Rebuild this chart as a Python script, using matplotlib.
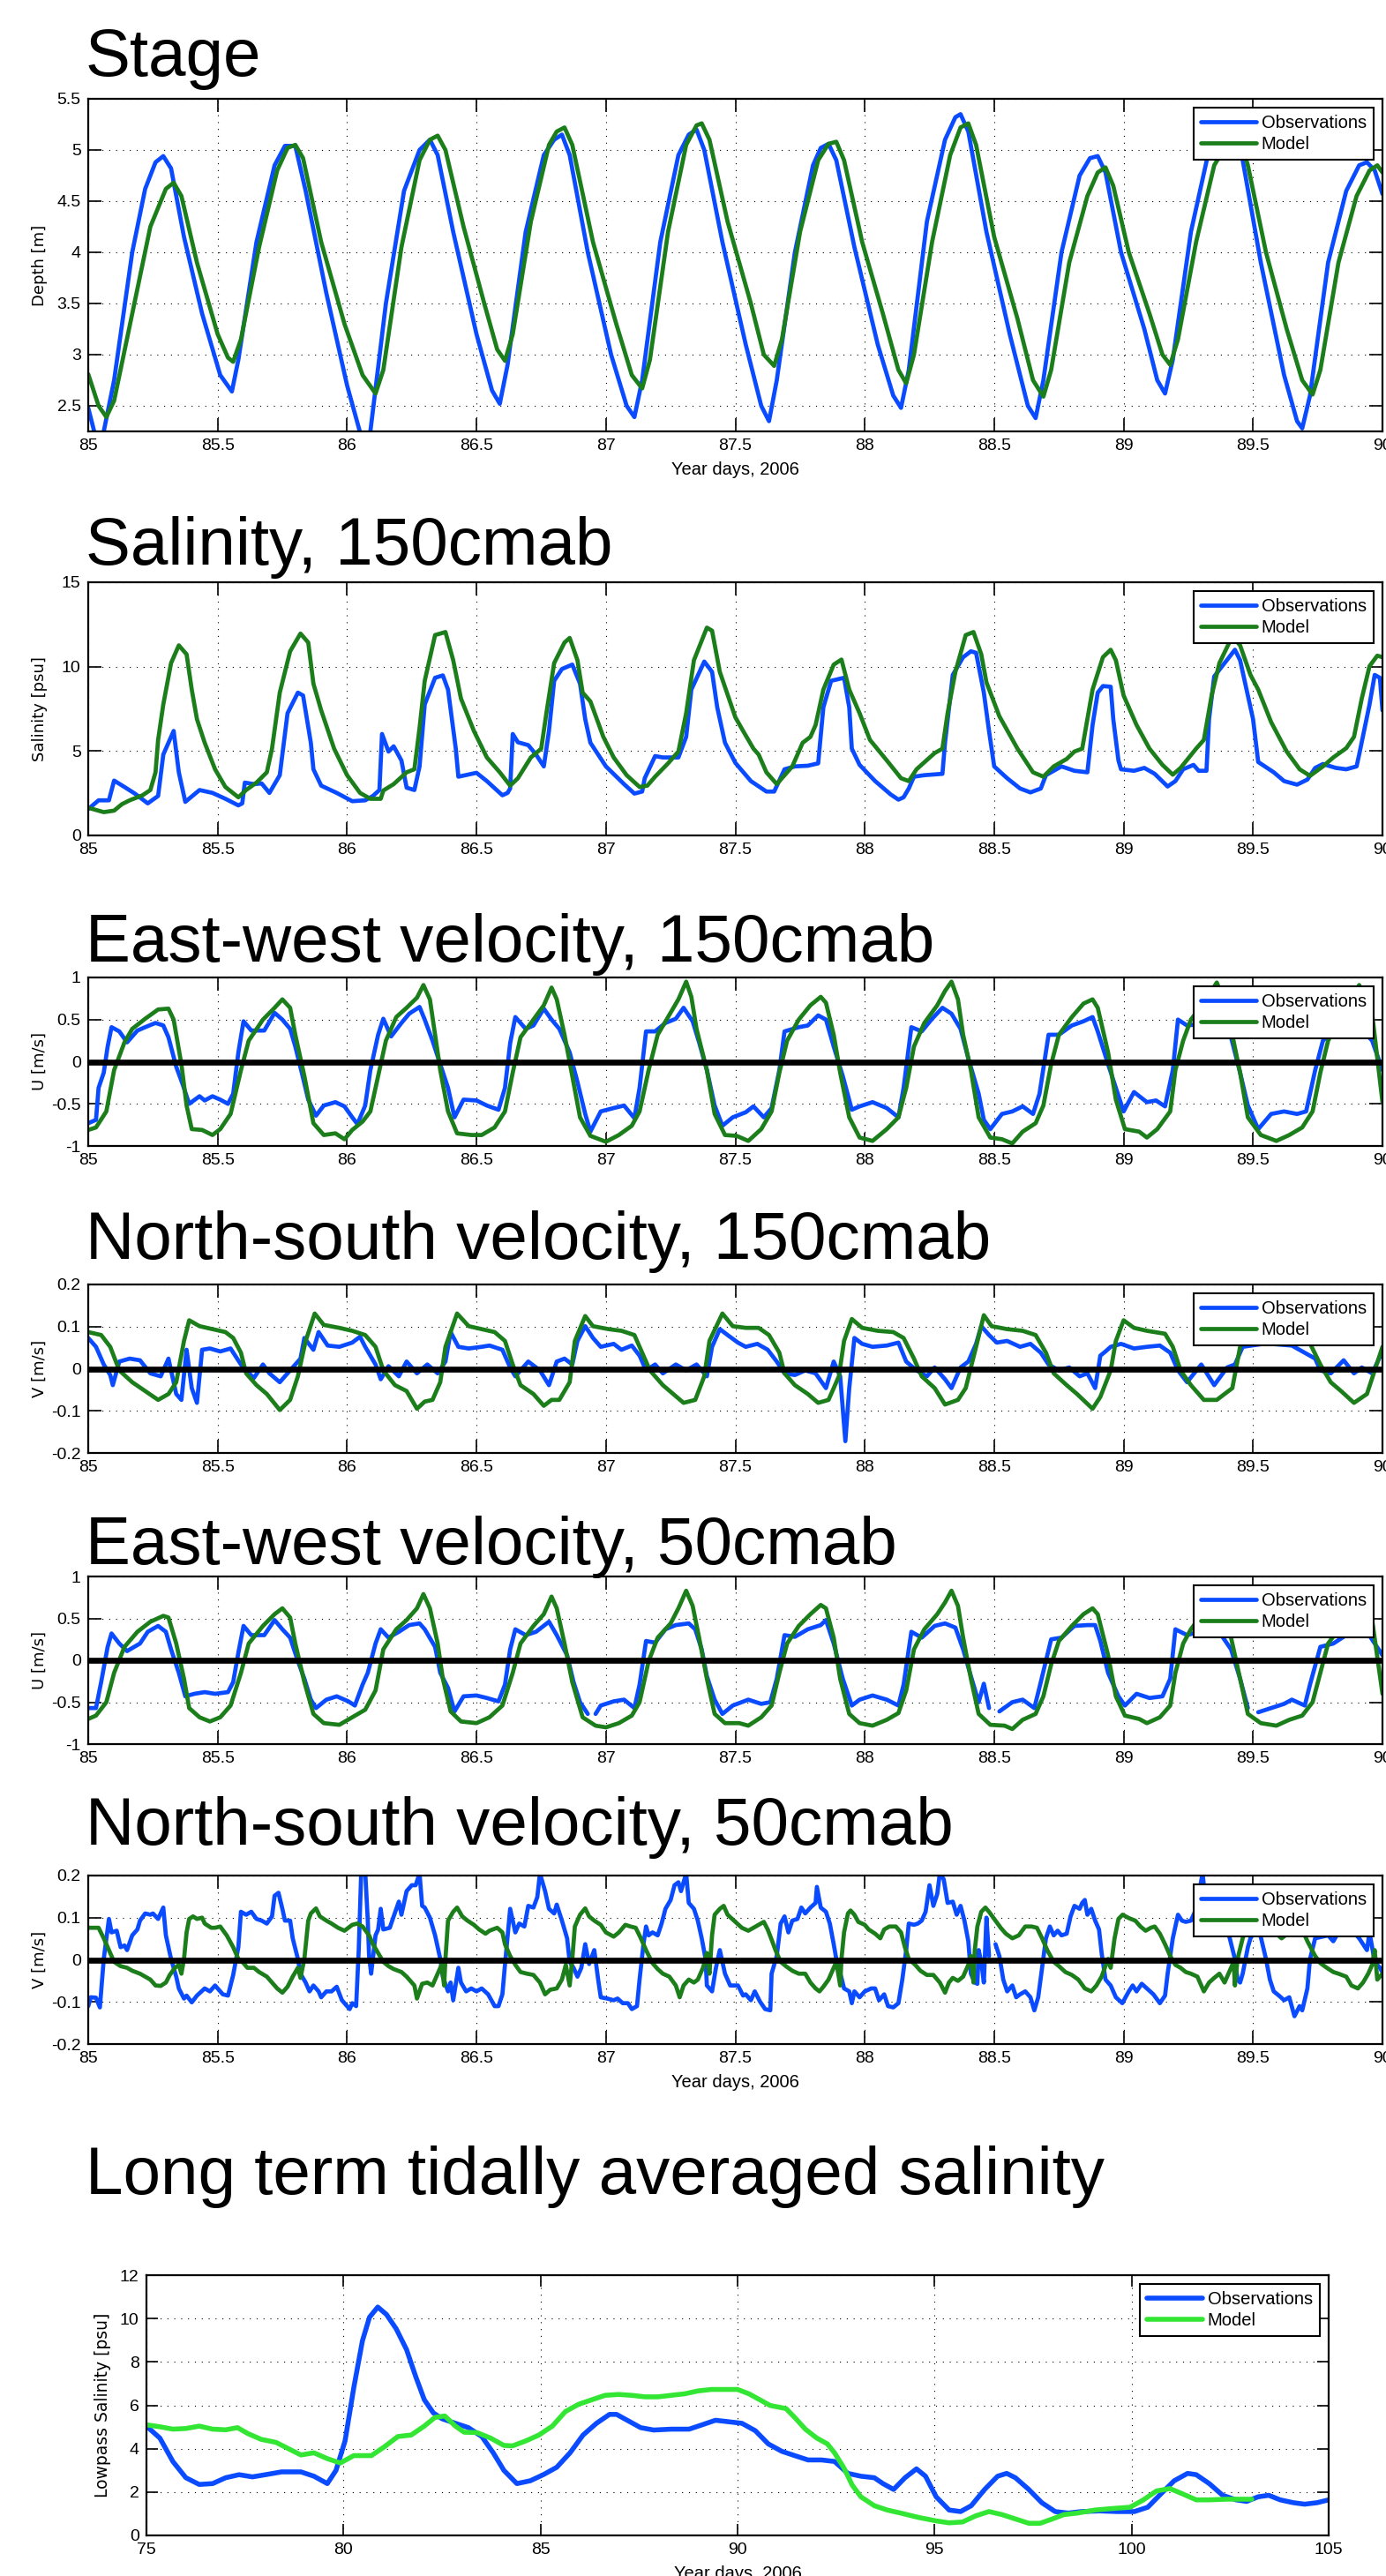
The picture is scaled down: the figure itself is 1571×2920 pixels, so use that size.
import matplotlib
matplotlib.use("Agg")
import matplotlib.pyplot as plt
import numpy as np

nan = np.nan

# ---------------- data (year day, value) ----------------
stage_obs = [
    (85.00, 2.48), (85.03, 2.18), (85.06, 2.25), (85.10, 2.75), (85.17, 4.00), (85.22, 4.62),
    (85.26, 4.88), (85.29, 4.94), (85.32, 4.82), (85.37, 4.15), (85.44, 3.40), (85.51, 2.80),
    (85.555, 2.64), (85.58, 2.95), (85.65, 4.10), (85.72, 4.85), (85.76, 5.04), (85.80, 5.04),
    (85.84, 4.60), (85.92, 3.60), (86.00, 2.70), (86.06, 2.15), (86.09, 2.25), (86.15, 3.50),
    (86.22, 4.60), (86.28, 5.00), (86.32, 5.10), (86.35, 4.95), (86.41, 4.20), (86.50, 3.20),
    (86.56, 2.65), (86.59, 2.52), (86.62, 2.90), (86.69, 4.20), (86.76, 4.95), (86.80, 5.10),
    (86.83, 5.15), (86.86, 4.95), (86.93, 4.00), (87.02, 3.00), (87.08, 2.50), (87.11, 2.39),
    (87.14, 2.75), (87.21, 4.10), (87.28, 4.95), (87.32, 5.15), (87.35, 5.20), (87.38, 5.00),
    (87.45, 4.10), (87.54, 3.10), (87.60, 2.50), (87.63, 2.35), (87.66, 2.75), (87.73, 4.00),
    (87.80, 4.85), (87.83, 5.02), (87.86, 5.06), (87.89, 4.90), (87.96, 4.05), (88.05, 3.10),
    (88.11, 2.60), (88.14, 2.48), (88.17, 2.85), (88.24, 4.30), (88.31, 5.10), (88.35, 5.32),
    (88.37, 5.35), (88.40, 5.18), (88.47, 4.20), (88.56, 3.20), (88.63, 2.50), (88.66, 2.38),
    (88.69, 2.75), (88.76, 4.00), (88.83, 4.75), (88.87, 4.92), (88.90, 4.94), (88.93, 4.78),
    (88.99, 4.00), (89.08, 3.25), (89.13, 2.75), (89.16, 2.62), (89.19, 2.95), (89.26, 4.20),
    (89.33, 5.00), (89.38, 5.15), (89.42, 5.18), (89.46, 4.90), (89.53, 3.90), (89.62, 2.80),
    (89.67, 2.35), (89.69, 2.28), (89.72, 2.60), (89.79, 3.90), (89.86, 4.60), (89.91, 4.85),
    (89.94, 4.88), (89.97, 4.80), (90.00, 4.57),
]
stage_mod = [
    (85.00, 2.81), (85.04, 2.50), (85.07, 2.39), (85.10, 2.55), (85.17, 3.40), (85.24, 4.25),
    (85.30, 4.62), (85.33, 4.68), (85.36, 4.55), (85.42, 3.90), (85.50, 3.20), (85.54, 2.97),
    (85.56, 2.93), (85.59, 3.15), (85.66, 4.05), (85.73, 4.80), (85.77, 5.02), (85.80, 5.05),
    (85.83, 4.92), (85.90, 4.10), (85.99, 3.30), (86.06, 2.80), (86.11, 2.62), (86.14, 2.85),
    (86.21, 4.05), (86.28, 4.90), (86.32, 5.10), (86.35, 5.14), (86.38, 5.00), (86.45, 4.25),
    (86.53, 3.50), (86.58, 3.05), (86.61, 2.94), (86.64, 3.20), (86.71, 4.30), (86.78, 5.05),
    (86.81, 5.18), (86.84, 5.22), (86.87, 5.05), (86.95, 4.10), (87.04, 3.30), (87.10, 2.80),
    (87.14, 2.67), (87.17, 2.95), (87.24, 4.20), (87.31, 5.05), (87.35, 5.24), (87.37, 5.26),
    (87.40, 5.10), (87.47, 4.30), (87.56, 3.50), (87.61, 3.00), (87.65, 2.89), (87.68, 3.15),
    (87.75, 4.20), (87.82, 4.90), (87.86, 5.06), (87.89, 5.08), (87.92, 4.90), (87.99, 4.10),
    (88.07, 3.40), (88.13, 2.85), (88.16, 2.72), (88.19, 3.00), (88.26, 4.10), (88.33, 4.95),
    (88.37, 5.22), (88.40, 5.26), (88.43, 5.05), (88.50, 4.15), (88.59, 3.35), (88.65, 2.75),
    (88.69, 2.59), (88.72, 2.85), (88.79, 3.90), (88.86, 4.55), (88.90, 4.78), (88.93, 4.83),
    (88.96, 4.65), (89.02, 4.00), (89.10, 3.40), (89.15, 3.00), (89.18, 2.90), (89.21, 3.15),
    (89.28, 4.10), (89.35, 4.85), (89.41, 5.10), (89.45, 5.10), (89.48, 4.85), (89.55, 4.00),
    (89.63, 3.25), (89.69, 2.75), (89.73, 2.61), (89.76, 2.85), (89.83, 3.90), (89.90, 4.55),
    (89.95, 4.80), (89.98, 4.85), (90.00, 4.78),
]

sal_obs = [
    (85.00, 1.56), (85.04, 2.08), (85.08, 2.08), (85.10, 3.25), (85.14, 2.87), (85.18, 2.48),
    (85.23, 1.90), (85.27, 2.34), (85.29, 4.79), (85.33, 6.19), (85.35, 3.74), (85.375, 1.99),
    (85.43, 2.69), (85.48, 2.52), (85.53, 2.17), (85.58, 1.78), (85.595, 1.90), (85.605, 3.13),
    (85.64, 3.04), (85.67, 3.08), (85.70, 2.52), (85.74, 3.57), (85.77, 7.24), (85.81, 8.46),
    (85.83, 8.29), (85.86, 5.49), (85.87, 3.92), (85.90, 2.95), (85.96, 2.52), (86.02, 2.03),
    (86.07, 2.08), (86.10, 2.34), (86.125, 2.69), (86.135, 6.01), (86.16, 4.97), (86.18, 5.28),
    (86.21, 4.44), (86.23, 2.83), (86.26, 2.69), (86.28, 4.09), (86.30, 7.76), (86.34, 9.34),
    (86.37, 9.48), (86.39, 8.64), (86.42, 5.14), (86.43, 3.48), (86.50, 3.71), (86.54, 3.22),
    (86.60, 2.38), (86.62, 2.52), (86.63, 2.78), (86.64, 6.01), (86.66, 5.52), (86.70, 5.35),
    (86.73, 4.79), (86.76, 4.09), (86.78, 6.19), (86.80, 9.16), (86.83, 9.86), (86.87, 10.12),
    (86.90, 8.99), (86.92, 6.89), (86.94, 5.49), (87.00, 4.09), (87.07, 3.04), (87.11, 2.48),
    (87.14, 2.60), (87.15, 3.39), (87.19, 4.70), (87.22, 4.62), (87.28, 4.62), (87.31, 5.84),
    (87.33, 8.64), (87.38, 10.30), (87.41, 9.69), (87.43, 7.59), (87.46, 5.49), (87.50, 4.30),
    (87.56, 3.22), (87.62, 2.60), (87.65, 2.60), (87.69, 3.92), (87.73, 4.09), (87.78, 4.13),
    (87.82, 4.27), (87.84, 7.59), (87.87, 9.16), (87.92, 9.34), (87.94, 7.59), (87.95, 5.14),
    (87.98, 4.18), (88.04, 3.22), (88.10, 2.43), (88.13, 2.12), (88.15, 2.26), (88.17, 2.78),
    (88.19, 3.48), (88.23, 3.57), (88.30, 3.65), (88.31, 5.49), (88.34, 9.51), (88.38, 10.56),
    (88.41, 10.91), (88.43, 10.82), (88.46, 8.46), (88.48, 6.19), (88.50, 4.09), (88.55, 3.39),
    (88.60, 2.78), (88.64, 2.55), (88.68, 2.78), (88.70, 3.57), (88.73, 3.83), (88.76, 4.09),
    (88.81, 3.83), (88.86, 3.74), (88.88, 6.54), (88.90, 8.46), (88.92, 8.85), (88.95, 8.81),
    (88.96, 6.89), (88.98, 4.44), (88.99, 3.92), (89.04, 3.83), (89.08, 4.00), (89.12, 3.65),
    (89.17, 2.90), (89.20, 3.22), (89.23, 3.92), (89.27, 4.18), (89.29, 3.83), (89.32, 3.83),
    (89.33, 6.89), (89.35, 9.42), (89.39, 10.21), (89.43, 11.00), (89.45, 10.38), (89.50, 6.89),
    (89.52, 4.35), (89.58, 3.74), (89.62, 3.22), (89.67, 3.01), (89.71, 3.31), (89.74, 4.00),
    (89.77, 4.23), (89.82, 4.00), (89.86, 3.92), (89.90, 4.09), (89.91, 4.79), (89.95, 7.76),
    (89.97, 9.51), (89.99, 9.34), (90.00, 7.41),
]
sal_mod = [
    (85.00, 1.64), (85.06, 1.38), (85.10, 1.47), (85.13, 1.85), (85.16, 2.08), (85.21, 2.38),
    (85.24, 2.69), (85.26, 3.74), (85.27, 5.66), (85.29, 7.76), (85.32, 10.21), (85.35, 11.26),
    (85.38, 10.73), (85.40, 8.64), (85.42, 6.89), (85.45, 5.49), (85.49, 3.92), (85.53, 2.87),
    (85.58, 2.26), (85.61, 2.69), (85.65, 3.13), (85.69, 3.74), (85.71, 5.14), (85.74, 8.46),
    (85.78, 10.91), (85.82, 11.96), (85.85, 11.43), (85.87, 8.99), (85.90, 7.41), (85.95, 5.14),
    (86.00, 3.57), (86.05, 2.52), (86.09, 2.17), (86.13, 2.17), (86.14, 2.66), (86.18, 3.04),
    (86.23, 3.74), (86.26, 3.92), (86.28, 6.36), (86.30, 9.16), (86.34, 11.87), (86.38, 12.05),
    (86.41, 10.38), (86.44, 8.11), (86.49, 6.19), (86.54, 4.62), (86.59, 3.74), (86.63, 2.95),
    (86.66, 3.39), (86.71, 4.62), (86.75, 5.14), (86.77, 7.24), (86.80, 10.21), (86.84, 11.43),
    (86.86, 11.70), (86.89, 10.38), (86.91, 8.46), (86.94, 7.94), (86.99, 5.84), (87.03, 4.62),
    (87.08, 3.57), (87.13, 2.87), (87.16, 2.95), (87.19, 3.48), (87.24, 4.27), (87.28, 4.97),
    (87.31, 7.24), (87.34, 10.38), (87.39, 12.31), (87.41, 12.13), (87.44, 9.69), (87.50, 7.00),
    (87.53, 6.19), (87.57, 5.14), (87.59, 4.79), (87.62, 3.74), (87.66, 3.04), (87.72, 4.09),
    (87.76, 5.49), (87.79, 5.84), (87.81, 6.54), (87.84, 8.64), (87.88, 10.12), (87.91, 10.42),
    (87.94, 8.64), (87.98, 7.24), (88.02, 5.66), (88.09, 4.35), (88.14, 3.39), (88.17, 3.22),
    (88.20, 3.92), (88.27, 4.88), (88.30, 5.14), (88.32, 7.24), (88.35, 9.69), (88.39, 11.87),
    (88.42, 12.05), (88.45, 10.73), (88.47, 9.07), (88.52, 7.06), (88.59, 5.14), (88.65, 3.74),
    (88.69, 3.48), (88.73, 4.09), (88.78, 4.53), (88.81, 4.97), (88.84, 5.14), (88.88, 8.64),
    (88.92, 10.56), (88.95, 11.00), (88.97, 10.38), (89.00, 8.29), (89.05, 6.54), (89.10, 5.14),
    (89.15, 4.18), (89.19, 3.60), (89.22, 4.00), (89.28, 5.14), (89.31, 5.66), (89.34, 8.29),
    (89.37, 10.21), (89.42, 11.80), (89.45, 11.26), (89.49, 9.51), (89.52, 8.64), (89.57, 6.71),
    (89.63, 4.97), (89.68, 3.92), (89.72, 3.53), (89.77, 4.09), (89.81, 4.62), (89.86, 5.17),
    (89.89, 5.84), (89.92, 8.11), (89.95, 10.03), (89.98, 10.65), (90.00, 10.56),
]

u150_obs = [
    (85.00, -0.73), (85.03, -0.69), (85.04, -0.31), (85.06, -0.13), (85.075, 0.18), (85.09, 0.41),
    (85.12, 0.36), (85.15, 0.23), (85.19, 0.37), (85.22, 0.41), (85.26, 0.46), (85.29, 0.43),
    (85.31, 0.29), (85.34, -0.06), (85.365, -0.27), (85.39, -0.50), (85.43, -0.41), (85.45, -0.46),
    (85.48, -0.41), (85.51, -0.45), (85.54, -0.50), (85.56, -0.38), (85.58, 0.11), (85.60, 0.48),
    (85.63, 0.37), (85.68, 0.37), (85.72, 0.58), (85.75, 0.50), (85.78, 0.39), (85.80, 0.18),
    (85.825, -0.13), (85.85, -0.45), (85.88, -0.64), (85.91, -0.52), (85.955, -0.48), (85.99, -0.53),
    (86.02, -0.66), (86.04, -0.74), (86.07, -0.52), (86.09, -0.10), (86.12, 0.32), (86.14, 0.51),
    (86.17, 0.30), (86.21, 0.46), (86.24, 0.57), (86.28, 0.65), (86.30, 0.50), (86.33, 0.25),
    (86.36, -0.03), (86.39, -0.31), (86.415, -0.66), (86.45, -0.45), (86.50, -0.46), (86.54, -0.52),
    (86.585, -0.57), (86.61, -0.31), (86.63, 0.22), (86.65, 0.53), (86.69, 0.39), (86.72, 0.43),
    (86.76, 0.63), (86.79, 0.50), (86.82, 0.39), (86.86, 0.11), (86.89, -0.24), (86.92, -0.62),
    (86.94, -0.83), (86.98, -0.59), (87.03, -0.55), (87.07, -0.52), (87.11, -0.67), (87.13, -0.31),
    (87.155, 0.36), (87.19, 0.36), (87.23, 0.46), (87.27, 0.51), (87.30, 0.64), (87.335, 0.48),
    (87.36, 0.23), (87.39, -0.10), (87.42, -0.52), (87.45, -0.76), (87.49, -0.66), (87.54, -0.60),
    (87.57, -0.53), (87.61, -0.66), (87.64, -0.55), (87.67, -0.10), (87.69, 0.36), (87.745, 0.41),
    (87.78, 0.43), (87.82, 0.55), (87.85, 0.50), (87.88, 0.18), (87.915, -0.17), (87.95, -0.57),
    (87.98, -0.53), (88.03, -0.48), (88.085, -0.55), (88.13, -0.66), (88.15, -0.31), (88.18, 0.41),
    (88.22, 0.36), (88.26, 0.51), (88.30, 0.64), (88.335, 0.57), (88.37, 0.39), (88.40, 0.04),
    (88.44, -0.38), (88.46, -0.69), (88.485, -0.80), (88.53, -0.62), (88.57, -0.59), (88.61, -0.53),
    (88.65, -0.62), (88.675, -0.38), (88.71, 0.32), (88.75, 0.32), (88.80, 0.43), (88.845, 0.48),
    (88.88, 0.53), (88.90, 0.36), (88.94, -0.03), (88.97, -0.31), (89.00, -0.59), (89.04, -0.36),
    (89.09, -0.48), (89.125, -0.46), (89.16, -0.53), (89.19, -0.10), (89.21, 0.50), (89.245, 0.43),
    (89.30, 0.45), (89.36, 0.50), (89.415, 0.29), (89.45, -0.13), (89.48, -0.52), (89.52, -0.80),
    (89.57, -0.62), (89.62, -0.59), (89.67, -0.62), (89.705, -0.59), (89.74, -0.10), (89.77, 0.25),
    (89.82, 0.40), (89.90, 0.45), (89.96, 0.25), (90.00, -0.10),
]
u150_mod = [
    (85.00, -0.81), (85.03, -0.78), (85.07, -0.59), (85.10, -0.10), (85.14, 0.23), (85.17, 0.39),
    (85.22, 0.51), (85.27, 0.62), (85.31, 0.63), (85.33, 0.50), (85.36, -0.03), (85.38, -0.52),
    (85.40, -0.80), (85.44, -0.81), (85.48, -0.87), (85.51, -0.80), (85.55, -0.62), (85.59, -0.10),
    (85.62, 0.25), (85.675, 0.50), (85.72, 0.64), (85.75, 0.74), (85.78, 0.64), (85.80, 0.32),
    (85.835, -0.17), (85.87, -0.73), (85.91, -0.87), (85.955, -0.85), (85.99, -0.92), (86.02, -0.81),
    (86.06, -0.71), (86.09, -0.59), (86.12, -0.17), (86.15, 0.25), (86.19, 0.53), (86.23, 0.64),
    (86.27, 0.76), (86.295, 0.91), (86.32, 0.74), (86.34, 0.32), (86.36, -0.10), (86.39, -0.59),
    (86.425, -0.85), (86.48, -0.87), (86.52, -0.87), (86.57, -0.78), (86.61, -0.59), (86.64, -0.13),
    (86.67, 0.29), (86.72, 0.50), (86.76, 0.67), (86.79, 0.88), (86.81, 0.74), (86.84, 0.32),
    (86.87, -0.17), (86.90, -0.66), (86.94, -0.88), (87.00, -0.95), (87.05, -0.87), (87.10, -0.76),
    (87.13, -0.59), (87.165, -0.10), (87.20, 0.32), (87.24, 0.53), (87.28, 0.74), (87.31, 0.95),
    (87.33, 0.77), (87.35, 0.39), (87.39, -0.10), (87.42, -0.62), (87.46, -0.87), (87.505, -0.88),
    (87.55, -0.94), (87.60, -0.80), (87.64, -0.59), (87.67, -0.13), (87.70, 0.25), (87.745, 0.50),
    (87.79, 0.67), (87.83, 0.77), (87.85, 0.70), (87.88, 0.32), (87.905, -0.13), (87.94, -0.66),
    (87.98, -0.90), (88.03, -0.94), (88.085, -0.80), (88.13, -0.66), (88.16, -0.31), (88.19, 0.18),
    (88.23, 0.46), (88.28, 0.67), (88.31, 0.84), (88.335, 0.95), (88.36, 0.74), (88.38, 0.32),
    (88.41, -0.10), (88.44, -0.66), (88.485, -0.90), (88.53, -0.92), (88.57, -0.97), (88.61, -0.83),
    (88.66, -0.73), (88.69, -0.52), (88.72, -0.03), (88.75, 0.32), (88.80, 0.53), (88.845, 0.69),
    (88.88, 0.74), (88.90, 0.64), (88.94, 0.11), (88.97, -0.45), (89.005, -0.80), (89.06, -0.83),
    (89.09, -0.90), (89.13, -0.80), (89.18, -0.59), (89.20, -0.10), (89.23, 0.25), (89.26, 0.50),
    (89.31, 0.70), (89.36, 0.94), (89.39, 0.70), (89.415, 0.39), (89.45, -0.13), (89.48, -0.66),
    (89.53, -0.87), (89.59, -0.94), (89.64, -0.87), (89.69, -0.78), (89.73, -0.59), (89.76, -0.13),
    (89.79, 0.25), (89.85, 0.60), (89.91, 0.91), (89.96, 0.57), (90.00, -0.48),
]

v150_obs = [
    (85.00, 0.073), (85.03, 0.052), (85.06, 0.010), (85.085, -0.015), (85.095, -0.039), (85.12, 0.017),
    (85.16, 0.024), (85.20, 0.020), (85.24, -0.011), (85.28, -0.018), (85.31, 0.024), (85.34, -0.060),
    (85.36, -0.074), (85.38, 0.045), (85.40, -0.046), (85.42, -0.081), (85.44, 0.045), (85.47, 0.048),
    (85.51, 0.041), (85.55, 0.048), (85.59, 0.010), (85.61, -0.004), (85.64, -0.022), (85.675, 0.010),
    (85.70, -0.011), (85.74, -0.032), (85.78, -0.004), (85.82, 0.024), (85.835, 0.073), (85.87, 0.045),
    (85.89, 0.087), (85.925, 0.055), (85.97, 0.052), (86.02, 0.062), (86.05, 0.076), (86.07, 0.052),
    (86.11, 0.010), (86.13, -0.025), (86.16, 0.006), (86.20, -0.018), (86.23, 0.017), (86.27, -0.011),
    (86.31, 0.010), (86.35, -0.011), (86.38, 0.017), (86.40, 0.087), (86.43, 0.052), (86.47, 0.048),
    (86.52, 0.052), (86.55, 0.055), (86.60, 0.045), (86.63, 0.003), (86.65, -0.018), (86.68, 0.003),
    (86.70, 0.017), (86.745, -0.004), (86.78, -0.039), (86.81, 0.017), (86.84, 0.024), (86.87, 0.010),
    (86.89, 0.066), (86.92, 0.101), (86.95, 0.073), (86.98, 0.052), (87.03, 0.059), (87.06, 0.045),
    (87.10, 0.055), (87.13, 0.031), (87.155, -0.004), (87.19, 0.010), (87.22, -0.011), (87.27, 0.010),
    (87.31, -0.004), (87.35, 0.010), (87.39, -0.018), (87.41, 0.052), (87.44, 0.094), (87.47, 0.080),
    (87.51, 0.062), (87.54, 0.052), (87.585, 0.059), (87.625, 0.045), (87.66, 0.017), (87.69, -0.011),
    (87.73, -0.015), (87.77, -0.004), (87.81, -0.011), (87.85, -0.046), (87.88, 0.017), (87.905, -0.018),
    (87.925, -0.172), (87.94, -0.046), (87.96, 0.073), (87.99, 0.059), (88.03, 0.052), (88.085, 0.055),
    (88.13, 0.062), (88.16, 0.017), (88.20, -0.004), (88.24, -0.018), (88.27, 0.003), (88.31, -0.025),
    (88.335, -0.046), (88.37, 0.003), (88.40, 0.017), (88.43, 0.059), (88.45, 0.101), (88.48, 0.080),
    (88.51, 0.062), (88.55, 0.066), (88.60, 0.052), (88.64, 0.059), (88.68, 0.038), (88.71, 0.010),
    (88.75, -0.004), (88.79, 0.003), (88.83, -0.018), (88.86, -0.011), (88.89, -0.046), (88.91, 0.031),
    (88.93, 0.041), (88.95, 0.052), (88.99, 0.059), (89.04, 0.048), (89.09, 0.052), (89.14, 0.055),
    (89.18, 0.038), (89.21, -0.004), (89.245, -0.032), (89.30, 0.010), (89.35, -0.039), (89.40, 0.003),
    (89.43, 0.010), (89.46, 0.052), (89.55, 0.060), (89.65, 0.055), (89.74, 0.024), (89.76, -0.004),
    (89.80, -0.011), (89.85, 0.020), (89.89, -0.011), (89.92, 0.003), (89.96, -0.011), (90.00, 0.041),
]
v150_mod = [
    (85.00, 0.087), (85.05, 0.080), (85.085, 0.052), (85.12, -0.004), (85.17, -0.032), (85.22, -0.053),
    (85.27, -0.074), (85.31, -0.060), (85.34, -0.032), (85.37, 0.066), (85.39, 0.115), (85.43, 0.101),
    (85.48, 0.094), (85.53, 0.087), (85.56, 0.073), (85.59, 0.038), (85.61, -0.011), (85.65, -0.039),
    (85.69, -0.060), (85.74, -0.098), (85.78, -0.074), (85.81, -0.018), (85.84, 0.066), (85.875, 0.131),
    (85.91, 0.104), (85.97, 0.097), (86.02, 0.090), (86.07, 0.080), (86.11, 0.052), (86.14, -0.004),
    (86.185, -0.039), (86.23, -0.053), (86.27, -0.095), (86.30, -0.078), (86.33, -0.074), (86.36, -0.032),
    (86.38, 0.052), (86.425, 0.131), (86.47, 0.101), (86.52, 0.094), (86.57, 0.087), (86.61, 0.066),
    (86.64, 0.010), (86.67, -0.039), (86.72, -0.060), (86.76, -0.088), (86.79, -0.074), (86.82, -0.074),
    (86.86, -0.032), (86.88, 0.066), (86.92, 0.125), (86.95, 0.101), (87.01, 0.094), (87.06, 0.090),
    (87.11, 0.080), (87.14, 0.038), (87.17, -0.004), (87.22, -0.039), (87.26, -0.060), (87.30, -0.081),
    (87.345, -0.074), (87.38, -0.018), (87.40, 0.066), (87.45, 0.131), (87.49, 0.101), (87.54, 0.097),
    (87.59, 0.097), (87.63, 0.080), (87.67, 0.038), (87.69, -0.011), (87.73, -0.039), (87.78, -0.060),
    (87.82, -0.081), (87.86, -0.074), (87.90, -0.018), (87.92, 0.066), (87.95, 0.118), (87.99, 0.097),
    (88.05, 0.090), (88.11, 0.087), (88.15, 0.073), (88.19, 0.024), (88.22, -0.018), (88.27, -0.046),
    (88.31, -0.085), (88.36, -0.074), (88.39, -0.046), (88.43, 0.052), (88.46, 0.127), (88.49, 0.101),
    (88.55, 0.094), (88.61, 0.090), (88.66, 0.080), (88.70, 0.038), (88.73, -0.011), (88.78, -0.039),
    (88.82, -0.060), (88.88, -0.095), (88.91, -0.067), (88.95, -0.004), (88.97, 0.066), (89.00, 0.115),
    (89.04, 0.097), (89.09, 0.090), (89.16, 0.083), (89.19, 0.052), (89.22, -0.004), (89.26, -0.039),
    (89.31, -0.074), (89.36, -0.074), (89.42, -0.046), (89.45, 0.052), (89.48, 0.115), (89.55, 0.100),
    (89.65, 0.090), (89.72, 0.060), (89.76, 0.010), (89.80, -0.032), (89.84, -0.053), (89.89, -0.081),
    (89.94, -0.060), (89.97, -0.004), (90.00, 0.052),
]

u50_obs = [
    (85.00, -0.57), (85.03, -0.57), (85.05, -0.26), (85.075, 0.16), (85.09, 0.32), (85.12, 0.20),
    (85.15, 0.11), (85.20, 0.20), (85.23, 0.34), (85.27, 0.41), (85.30, 0.34), (85.32, 0.13),
    (85.35, -0.15), (85.375, -0.43), (85.41, -0.40), (85.45, -0.38), (85.49, -0.40), (85.54, -0.38),
    (85.56, -0.26), (85.58, 0.09), (85.60, 0.41), (85.63, 0.30), (85.68, 0.30), (85.72, 0.48),
    (85.75, 0.37), (85.78, 0.27), (85.81, -0.01), (85.835, -0.22), (85.86, -0.47), (85.88, -0.57),
    (85.92, -0.47), (85.96, -0.43), (86.005, -0.49), (86.03, -0.54), (86.06, -0.29), (86.08, -0.15),
    (86.11, 0.20), (86.13, 0.37), (86.16, 0.27), (86.20, 0.34), (86.24, 0.42), (86.28, 0.44),
    (86.30, 0.37), (86.34, 0.16), (86.36, -0.15), (86.39, -0.33), (86.415, -0.61), (86.45, -0.43),
    (86.50, -0.42), (86.54, -0.45), (86.585, -0.49), (86.61, -0.29), (86.63, 0.13), (86.65, 0.37),
    (86.69, 0.30), (86.73, 0.34), (86.78, 0.46), (86.81, 0.30), (86.85, 0.06), (86.875, -0.26),
    (86.90, -0.50), (86.93, -0.64), (86.945, nan), (86.96, -0.64), (86.98, -0.54), (87.03, -0.49),
    (87.07, -0.47), (87.11, -0.57), (87.13, -0.29), (87.155, 0.23), (87.19, 0.21), (87.23, 0.37),
    (87.27, 0.42), (87.32, 0.44), (87.345, 0.37), (87.37, 0.13), (87.39, -0.19), (87.42, -0.47),
    (87.45, -0.64), (87.49, -0.54), (87.55, -0.47), (87.60, -0.52), (87.635, -0.50), (87.66, -0.22),
    (87.69, 0.30), (87.73, 0.28), (87.78, 0.37), (87.83, 0.42), (87.85, 0.48), (87.88, 0.20),
    (87.915, -0.22), (87.95, -0.54), (87.98, -0.47), (88.03, -0.42), (88.085, -0.47), (88.13, -0.54),
    (88.15, -0.29), (88.18, 0.34), (88.22, 0.27), (88.27, 0.41), (88.31, 0.44), (88.35, 0.39),
    (88.38, 0.13), (88.41, -0.19), (88.44, -0.50), (88.46, -0.28), (88.48, -0.57), (88.50, nan),
    (88.52, -0.61), (88.57, -0.50), (88.61, -0.47), (88.655, -0.57), (88.68, -0.26), (88.72, 0.25),
    (88.76, 0.27), (88.81, 0.41), (88.86, 0.42), (88.89, 0.42), (88.91, 0.23), (88.94, -0.15),
    (88.98, -0.43), (89.005, -0.54), (89.05, -0.40), (89.10, -0.45), (89.15, -0.43), (89.18, -0.22),
    (89.20, 0.37), (89.245, 0.30), (89.30, 0.35), (89.36, 0.38), (89.415, 0.13), (89.45, -0.22),
    (89.48, -0.57), (89.50, nan), (89.52, -0.62), (89.57, -0.57), (89.62, -0.52), (89.65, -0.47),
    (89.70, -0.54), (89.72, -0.29), (89.76, 0.16), (89.81, 0.20), (89.86, 0.30), (89.94, 0.34),
    (90.00, 0.06),
]
u50_mod = [
    (85.00, -0.70), (85.03, -0.66), (85.07, -0.50), (85.10, -0.15), (85.14, 0.16), (85.19, 0.34),
    (85.24, 0.46), (85.29, 0.53), (85.31, 0.51), (85.34, 0.20), (85.37, -0.22), (85.39, -0.57),
    (85.43, -0.68), (85.47, -0.73), (85.51, -0.68), (85.55, -0.54), (85.59, -0.15), (85.62, 0.20),
    (85.675, 0.41), (85.72, 0.55), (85.75, 0.62), (85.78, 0.51), (85.80, 0.20), (85.835, -0.26),
    (85.87, -0.64), (85.91, -0.75), (85.97, -0.77), (86.02, -0.68), (86.07, -0.59), (86.11, -0.36),
    (86.14, 0.13), (86.19, 0.37), (86.23, 0.48), (86.27, 0.62), (86.295, 0.79), (86.32, 0.62),
    (86.35, 0.20), (86.37, -0.22), (86.40, -0.61), (86.44, -0.73), (86.50, -0.75), (86.55, -0.68),
    (86.60, -0.54), (86.64, -0.15), (86.67, 0.20), (86.72, 0.41), (86.76, 0.55), (86.79, 0.76),
    (86.81, 0.62), (86.84, 0.20), (86.87, -0.26), (86.91, -0.68), (86.96, -0.78), (87.00, -0.80),
    (87.05, -0.75), (87.10, -0.66), (87.13, -0.50), (87.165, -0.01), (87.20, 0.27), (87.25, 0.44),
    (87.28, 0.62), (87.31, 0.83), (87.335, 0.65), (87.36, 0.27), (87.39, -0.22), (87.42, -0.64),
    (87.46, -0.75), (87.515, -0.75), (87.55, -0.78), (87.60, -0.68), (87.64, -0.54), (87.67, -0.15),
    (87.70, 0.20), (87.745, 0.41), (87.79, 0.55), (87.83, 0.66), (87.85, 0.62), (87.88, 0.27),
    (87.905, -0.22), (87.94, -0.64), (87.98, -0.75), (88.03, -0.78), (88.085, -0.71), (88.13, -0.63),
    (88.16, -0.36), (88.19, 0.13), (88.23, 0.37), (88.28, 0.55), (88.31, 0.69), (88.335, 0.83),
    (88.36, 0.65), (88.38, 0.27), (88.41, -0.22), (88.44, -0.64), (88.485, -0.77), (88.54, -0.78),
    (88.57, -0.82), (88.61, -0.71), (88.66, -0.64), (88.69, -0.43), (88.72, -0.05), (88.75, 0.23),
    (88.80, 0.41), (88.845, 0.55), (88.88, 0.62), (88.90, 0.55), (88.94, 0.06), (88.97, -0.43),
    (89.005, -0.66), (89.06, -0.70), (89.09, -0.75), (89.14, -0.68), (89.18, -0.54), (89.20, -0.15),
    (89.23, 0.20), (89.26, 0.37), (89.31, 0.58), (89.36, 0.79), (89.39, 0.60), (89.415, 0.27),
    (89.45, -0.22), (89.48, -0.64), (89.53, -0.75), (89.59, -0.78), (89.64, -0.71), (89.69, -0.66),
    (89.73, -0.50), (89.76, -0.15), (89.79, 0.20), (89.85, 0.45), (89.91, 0.65), (89.96, 0.48),
    (90.00, -0.40),
]

v50_obs = [
    (85.00, -0.110), (85.01, -0.089), (85.03, -0.090), (85.045, -0.113), (85.06, 0.002), (85.08, 0.097),
    (85.09, 0.065), (85.11, 0.069), (85.125, 0.030), (85.14, 0.034), (85.15, 0.023), (85.17, 0.058),
    (85.19, 0.072), (85.20, 0.093), (85.22, 0.110), (85.24, 0.107), (85.25, 0.110), (85.27, 0.097),
    (85.29, 0.124), (85.30, 0.058), (85.32, 0.002), (85.34, -0.040), (85.35, -0.068), (85.37, -0.092),
    (85.38, -0.085), (85.40, -0.101), (85.42, -0.085), (85.45, -0.068), (85.47, -0.075), (85.49, -0.061),
    (85.52, -0.082), (85.54, -0.085), (85.56, -0.036), (85.58, 0.030), (85.59, 0.114), (85.61, 0.107),
    (85.63, 0.114), (85.65, 0.097), (85.67, 0.093), (85.69, 0.086), (85.71, 0.103), (85.72, 0.152),
    (85.735, 0.159), (85.75, 0.121), (85.76, 0.093), (85.78, 0.093), (85.79, 0.051), (85.81, 0.002),
    (85.82, -0.033), (85.84, -0.054), (85.855, -0.075), (85.87, -0.061), (85.89, -0.075), (85.90, -0.089),
    (85.92, -0.075), (85.94, -0.075), (85.96, -0.064), (85.98, -0.096), (86.01, -0.117), (86.02, -0.103),
    (86.035, -0.110), (86.045, 0.023), (86.055, 0.215), (86.07, 0.210), (86.08, 0.093), (86.085, 0.009),
    (86.093, -0.033), (86.11, 0.058), (86.12, 0.072), (86.13, 0.121), (86.14, 0.072), (86.165, 0.076),
    (86.18, 0.103), (86.20, 0.138), (86.21, 0.107), (86.23, 0.163), (86.25, 0.177), (86.265, 0.177),
    (86.28, 0.205), (86.29, 0.128), (86.30, 0.124), (86.32, 0.100), (86.34, 0.058), (86.36, 0.002),
    (86.37, -0.040), (86.39, -0.075), (86.40, -0.054), (86.41, -0.096), (86.43, -0.019), (86.44, -0.054),
    (86.46, -0.075), (86.48, -0.068), (86.50, -0.075), (86.52, -0.068), (86.545, -0.082), (86.57, -0.110),
    (86.585, -0.110), (86.60, -0.082), (86.61, -0.012), (86.63, 0.121), (86.65, 0.065), (86.665, 0.086),
    (86.685, 0.079), (86.70, 0.128), (86.72, 0.124), (86.735, 0.149), (86.745, 0.205), (86.765, 0.163),
    (86.78, 0.121), (86.80, 0.110), (86.81, 0.131), (86.83, 0.093), (86.85, 0.051), (86.86, -0.005),
    (86.875, -0.019), (86.89, -0.040), (86.905, -0.019), (86.92, 0.037), (86.935, -0.010), (86.955, 0.023),
    (86.97, -0.047), (86.98, -0.089), (87.005, -0.092), (87.03, -0.096), (87.045, -0.092), (87.065, -0.103),
    (87.085, -0.103), (87.10, -0.117), (87.12, -0.110), (87.13, -0.047), (87.145, 0.037), (87.155, 0.079),
    (87.165, 0.058), (87.18, 0.065), (87.20, 0.058), (87.215, 0.086), (87.23, 0.121), (87.25, 0.142),
    (87.265, 0.177), (87.28, 0.184), (87.29, 0.163), (87.31, 0.205), (87.32, 0.135), (87.34, 0.121),
    (87.355, 0.093), (87.37, 0.051), (87.385, 0.002), (87.39, -0.061), (87.41, -0.075), (87.425, -0.019),
    (87.44, 0.023), (87.46, -0.033), (87.48, -0.061), (87.51, -0.061), (87.53, -0.085), (87.54, -0.082),
    (87.56, -0.096), (87.575, -0.075), (87.595, -0.099), (87.615, -0.117), (87.635, -0.120), (87.64, -0.033),
    (87.66, 0.009), (87.675, 0.086), (87.69, 0.103), (87.705, 0.065), (87.72, 0.093), (87.74, 0.097),
    (87.755, 0.124), (87.77, 0.110), (87.79, 0.124), (87.81, 0.135), (87.815, 0.173), (87.83, 0.124),
    (87.85, 0.114), (87.865, 0.086), (87.88, 0.037), (87.89, 0.002), (87.91, -0.043), (87.92, -0.068),
    (87.94, -0.075), (87.95, -0.103), (87.96, -0.075), (87.98, -0.089), (88.00, -0.075), (88.025, -0.068),
    (88.04, -0.068), (88.055, -0.096), (88.075, -0.082), (88.09, -0.110), (88.11, -0.113), (88.13, -0.103),
    (88.145, -0.047), (88.16, 0.023), (88.17, 0.086), (88.19, 0.083), (88.205, 0.086), (88.22, 0.093),
    (88.235, 0.114), (88.25, 0.177), (88.265, 0.128), (88.28, 0.156), (88.29, 0.205), (88.305, 0.191),
    (88.32, 0.135), (88.34, 0.138), (88.355, 0.107), (88.37, 0.128), (88.385, 0.093), (88.40, 0.044),
    (88.41, -0.033), (88.425, -0.054), (88.435, -0.057), (88.44, 0.023), (88.45, -0.005), (88.46, -0.054),
    (88.47, 0.100), (88.48, 0.009), (88.49, nan), (88.505, 0.037), (88.52, 0.009), (88.535, -0.047),
    (88.55, -0.075), (88.57, -0.061), (88.585, -0.089), (88.60, -0.082), (88.62, -0.075), (88.64, -0.089),
    (88.655, -0.120), (88.67, -0.089), (88.685, -0.019), (88.70, 0.051), (88.715, 0.079), (88.73, 0.058),
    (88.745, 0.069), (88.76, 0.058), (88.78, 0.062), (88.795, 0.103), (88.81, 0.128), (88.83, 0.121),
    (88.84, 0.135), (88.85, 0.142), (88.86, 0.107), (88.875, 0.121), (88.89, 0.093), (88.905, 0.072),
    (88.915, 0.016), (88.93, -0.047), (88.95, -0.061), (88.97, -0.089), (88.995, -0.103), (89.02, -0.075),
    (89.035, -0.061), (89.05, -0.075), (89.07, -0.057), (89.09, -0.068), (89.115, -0.082), (89.14, -0.103),
    (89.16, -0.085), (89.17, -0.033), (89.19, 0.051), (89.21, 0.107), (89.225, 0.093), (89.24, 0.090),
    (89.26, 0.093), (89.28, 0.120), (89.305, 0.205), (89.31, 0.177), (89.34, 0.150), (89.375, 0.128),
    (89.41, 0.051), (89.43, 0.002), (89.44, -0.047), (89.45, -0.054), (89.46, -0.033), (89.48, 0.030),
    (89.49, 0.051), (89.52, 0.080), (89.55, 0.002), (89.565, -0.047), (89.58, -0.075), (89.60, -0.085),
    (89.62, -0.096), (89.64, -0.089), (89.66, -0.134), (89.68, -0.110), (89.69, -0.120), (89.71, -0.068),
    (89.72, 0.002), (89.74, 0.051), (89.79, 0.058), (89.81, 0.044), (89.83, 0.065), (89.88, 0.072),
    (89.91, 0.051), (89.94, 0.023), (89.95, 0.065), (89.97, -0.005), (89.99, -0.019), (90.00, -0.030),
]
v50_mod = [
    (85.00, 0.076), (85.04, 0.076), (85.06, 0.051), (85.08, 0.023), (85.10, -0.005), (85.125, -0.015),
    (85.15, -0.019), (85.17, -0.026), (85.20, -0.033), (85.22, -0.040), (85.24, -0.047), (85.26, -0.061),
    (85.28, -0.062), (85.30, -0.054), (85.315, -0.036), (85.335, -0.019), (85.35, -0.012), (85.36, -0.033),
    (85.37, 0.002), (85.38, 0.065), (85.39, 0.097), (85.405, 0.103), (85.42, 0.097), (85.44, 0.100),
    (85.45, 0.086), (85.475, 0.076), (85.49, 0.076), (85.51, 0.079), (85.535, 0.058), (85.56, 0.030),
    (85.58, 0.002), (85.60, -0.008), (85.615, -0.019), (85.64, -0.019), (85.66, -0.029), (85.69, -0.040),
    (85.71, -0.054), (85.73, -0.068), (85.75, -0.078), (85.77, -0.064), (85.79, -0.040), (85.81, -0.019),
    (85.82, -0.043), (85.835, 0.002), (85.85, 0.093), (85.86, 0.110), (85.88, 0.122), (85.895, 0.103),
    (85.92, 0.093), (85.94, 0.086), (85.965, 0.076), (85.99, 0.069), (86.02, 0.083), (86.04, 0.086),
    (86.06, 0.079), (86.085, 0.058), (86.10, 0.037), (86.12, 0.016), (86.14, -0.005), (86.16, -0.015),
    (86.18, -0.022), (86.21, -0.029), (86.23, -0.040), (86.26, -0.061), (86.27, -0.092), (86.29, -0.057),
    (86.31, -0.054), (86.33, -0.061), (86.35, -0.033), (86.365, -0.012), (86.375, -0.061), (86.38, 0.002),
    (86.39, 0.093), (86.41, 0.114), (86.425, 0.124), (86.445, 0.103), (86.465, 0.093), (86.49, 0.083),
    (86.51, 0.072), (86.535, 0.062), (86.55, 0.069), (86.58, 0.076), (86.60, 0.065), (86.61, 0.037),
    (86.63, 0.009), (86.65, -0.012), (86.67, -0.029), (86.695, -0.033), (86.72, -0.036), (86.745, -0.054),
    (86.765, -0.082), (86.785, -0.071), (86.81, -0.068), (86.83, -0.047), (86.845, -0.012), (86.86, -0.061),
    (86.87, 0.002), (86.88, 0.079), (86.90, 0.107), (86.92, 0.122), (86.935, 0.103), (86.955, 0.093),
    (86.98, 0.083), (87.00, 0.065), (87.03, 0.055), (87.05, 0.065), (87.075, 0.083), (87.095, 0.079),
    (87.115, 0.076), (87.135, 0.051), (87.155, 0.023), (87.18, -0.008), (87.20, -0.022), (87.22, -0.033),
    (87.245, -0.040), (87.27, -0.061), (87.285, -0.089), (87.30, -0.061), (87.32, -0.047), (87.34, -0.054),
    (87.355, -0.047), (87.375, -0.019), (87.39, 0.016), (87.40, -0.033), (87.41, 0.058), (87.42, 0.107),
    (87.44, 0.121), (87.455, 0.128), (87.47, 0.107), (87.50, 0.090), (87.525, 0.076), (87.55, 0.069),
    (87.57, 0.076), (87.59, 0.083), (87.61, 0.090), (87.625, 0.072), (87.64, 0.048), (87.655, 0.023),
    (87.675, -0.005), (87.695, -0.015), (87.72, -0.026), (87.745, -0.033), (87.77, -0.033), (87.79, -0.054),
    (87.81, -0.068), (87.825, -0.075), (87.84, -0.064), (87.86, -0.047), (87.875, -0.026), (87.89, -0.005),
    (87.905, -0.061), (87.91, 0.002), (87.92, 0.065), (87.935, 0.110), (87.945, 0.117), (87.96, 0.107),
    (87.975, 0.090), (88.00, 0.083), (88.015, 0.072), (88.04, 0.062), (88.06, 0.051), (88.075, 0.072),
    (88.095, 0.079), (88.12, 0.079), (88.14, 0.065), (88.155, 0.030), (88.17, 0.002), (88.195, -0.012),
    (88.215, -0.026), (88.24, -0.036), (88.265, -0.036), (88.29, -0.054), (88.31, -0.078), (88.325, -0.054),
    (88.34, -0.043), (88.36, -0.050), (88.38, -0.040), (88.40, -0.012), (88.41, 0.009), (88.42, -0.054),
    (88.425, 0.023), (88.435, 0.079), (88.45, 0.114), (88.466, 0.124), (88.48, 0.114), (88.505, 0.093),
    (88.525, 0.076), (88.545, 0.062), (88.57, 0.051), (88.595, 0.058), (88.62, 0.079), (88.645, 0.079),
    (88.665, 0.076), (88.685, 0.051), (88.705, 0.023), (88.73, -0.005), (88.75, -0.015), (88.775, -0.029),
    (88.80, -0.036), (88.825, -0.047), (88.85, -0.068), (88.875, -0.075), (88.895, -0.061), (88.915, -0.040),
    (88.93, -0.015), (88.94, 0.002), (88.95, -0.019), (88.965, 0.051), (88.98, 0.097), (88.996, 0.107),
    (89.02, 0.099), (89.045, 0.093), (89.065, 0.079), (89.085, 0.069), (89.105, 0.076), (89.12, 0.079),
    (89.14, 0.062), (89.16, 0.037), (89.18, 0.009), (89.20, -0.012), (89.22, -0.019), (89.24, -0.029),
    (89.26, -0.033), (89.285, -0.040), (89.31, -0.075), (89.33, -0.054), (89.35, -0.043), (89.37, -0.033),
    (89.39, -0.054), (89.41, -0.026), (89.425, -0.005), (89.43, -0.061), (89.44, 0.002), (89.46, 0.051),
    (89.485, 0.100), (89.50, 0.115), (89.55, 0.085), (89.61, 0.051), (89.64, 0.065), (89.69, 0.072),
    (89.71, 0.044), (89.74, 0.009), (89.76, -0.008), (89.785, -0.019), (89.81, -0.029), (89.83, -0.033),
    (89.86, -0.040), (89.88, -0.061), (89.905, -0.068), (89.925, -0.054), (89.945, -0.033), (89.96, -0.012),
    (89.97, 0.023), (89.98, -0.047), (90.00, -0.033),
]

lp_obs = [
    (75.00, 5.04), (75.34, 4.49), (75.67, 3.41), (76.00, 2.66), (76.34, 2.35), (76.68, 2.39),
    (77.01, 2.66), (77.35, 2.80), (77.69, 2.70), (78.02, 2.80), (78.43, 2.93), (78.92, 2.93),
    (79.25, 2.73), (79.59, 2.39), (79.81, 3.00), (80.04, 4.36), (80.26, 6.80), (80.48, 8.97),
    (80.66, 10.06), (80.87, 10.53), (81.09, 10.19), (81.34, 9.52), (81.60, 8.57), (81.83, 7.34),
    (82.05, 6.26), (82.28, 5.65), (82.50, 5.38), (82.84, 5.17), (83.17, 4.97), (83.51, 4.56),
    (83.80, 3.81), (84.07, 3.00), (84.40, 2.39), (84.74, 2.52), (85.07, 2.80), (85.41, 3.14),
    (85.75, 3.81), (86.08, 4.63), (86.42, 5.17), (86.75, 5.58), (86.93, 5.58), (87.20, 5.31),
    (87.54, 4.97), (87.87, 4.86), (88.32, 4.90), (88.77, 4.90), (89.10, 5.10), (89.44, 5.31),
    (89.78, 5.24), (90.11, 5.17), (90.45, 4.83), (90.78, 4.22), (91.12, 3.88), (91.45, 3.68),
    (91.79, 3.48), (92.13, 3.48), (92.46, 3.41), (92.80, 2.86), (93.13, 2.73), (93.47, 2.66),
    (93.69, 2.39), (93.96, 2.12), (94.25, 2.66), (94.54, 3.07), (94.77, 2.73), (95.04, 1.78),
    (95.37, 1.17), (95.66, 1.10), (95.93, 1.37), (96.27, 2.12), (96.60, 2.73), (96.83, 2.86),
    (97.05, 2.66), (97.39, 2.12), (97.72, 1.51), (98.06, 1.10), (98.39, 1.03), (98.73, 1.10),
    (99.18, 1.13), (99.63, 1.10), (100.07, 1.10), (100.41, 1.30), (100.74, 1.91), (101.08, 2.52),
    (101.42, 2.86), (101.64, 2.80), (101.97, 2.39), (102.31, 1.85), (102.65, 1.64), (102.92, 1.57),
    (103.21, 1.78), (103.48, 1.85), (103.77, 1.64), (104.10, 1.51), (104.39, 1.44), (104.71, 1.51),
    (105.00, 1.64),
]
lp_mod = [
    (75.00, 5.10), (75.34, 5.01), (75.67, 4.90), (76.00, 4.93), (76.34, 5.04), (76.68, 4.90),
    (77.01, 4.87), (77.31, 4.97), (77.57, 4.70), (77.91, 4.43), (78.29, 4.29), (78.58, 4.02),
    (78.92, 3.71), (79.25, 3.81), (79.59, 3.54), (79.92, 3.34), (80.26, 3.68), (80.71, 3.68),
    (81.04, 4.09), (81.38, 4.56), (81.72, 4.63), (82.05, 5.04), (82.32, 5.44), (82.57, 5.51),
    (82.84, 5.04), (83.06, 4.76), (83.39, 4.74), (83.73, 4.49), (84.07, 4.15), (84.29, 4.13),
    (84.63, 4.36), (84.96, 4.63), (85.30, 5.04), (85.63, 5.71), (85.97, 6.05), (86.31, 6.26),
    (86.64, 6.46), (86.98, 6.50), (87.31, 6.46), (87.65, 6.39), (87.98, 6.39), (88.32, 6.46),
    (88.66, 6.53), (88.99, 6.66), (89.33, 6.73), (89.66, 6.73), (90.00, 6.73), (90.29, 6.53),
    (90.56, 6.26), (90.83, 5.99), (91.23, 5.85), (91.45, 5.44), (91.72, 4.90), (92.01, 4.49),
    (92.28, 4.22), (92.46, 3.81), (92.69, 3.14), (92.91, 2.32), (93.13, 1.78), (93.47, 1.37),
    (93.80, 1.17), (94.14, 1.03), (94.59, 0.83), (95.04, 0.67), (95.37, 0.58), (95.71, 0.62),
    (96.04, 0.90), (96.38, 1.10), (96.71, 0.96), (97.05, 0.76), (97.39, 0.56), (97.68, 0.56),
    (97.99, 0.76), (98.28, 0.96), (98.62, 1.03), (99.07, 1.17), (99.51, 1.24), (99.96, 1.30),
    (100.30, 1.64), (100.63, 2.05), (100.97, 2.16), (101.30, 1.91), (101.64, 1.64), (101.97, 1.64),
    (102.42, 1.67), (102.76, 1.67), (103.05, 1.67),
]

short_xticks = [85, 85.5, 86, 86.5, 87, 87.5, 88, 88.5, 89, 89.5, 90]
short_xlabels = ['85', '85.5', '86', '86.5', '87', '87.5', '88', '88.5', '89', '89.5', '90']
long_xticks = [75, 80, 85, 90, 95, 100, 105]

# ---------------- figure ----------------
W, H = 1571, 2920
plt.rcParams['font.family'] = ['Liberation Sans', 'DejaVu Sans']
plt.rcParams['axes.unicode_minus'] = False

OBS = '#0a4bff'
MOD = '#1b7e1b'
MOD2 = '#33e633'

fig = plt.figure(figsize=(W / 100, H / 100), dpi=100)


def box(left, top, right, bottom):
    return fig.add_axes([left / W, 1 - bottom / H, (right - left) / W, (bottom - top) / H])


def series(ax, data, **kw):
    t, v = np.array(data, dtype=float).T
    ax.plot(t, v, solid_joinstyle='round', solid_capstyle='round', **kw)


def finish(ax, xlim, xticks, xlabels, ylim, yticks, ylabel, ylab_x, tick_len):
    ax.set_xlim(xlim)
    ax.set_ylim(ylim)
    ax.set_xticks(xticks, xlabels)
    ax.set_yticks(yticks, [('%g' % y) for y in yticks])
    ax.grid(True, color='k', lw=0.8, ls=(0, (1, 6)))
    ax.tick_params(direction='in', top=True, right=True, length=tick_len, width=1.2,
                   labelsize=14, pad=6)
    for s in ax.spines.values():
        s.set_linewidth(1.6)
    ax.set_ylabel(ylabel, family='DejaVu Sans', fontsize=13, va='center')
    ax.yaxis.set_label_coords(ylab_x, 0.5)
    leg = ax.legend(loc='upper right', fontsize=14.5, fancybox=False, edgecolor='k',
                    framealpha=1, borderaxespad=0.5, handlelength=3.1, handletextpad=0.3,
                    labelspacing=0.25, borderpad=0.4)
    leg.get_frame().set_linewidth(1.5)
    leg.set_zorder(10)


panels = [
    ('Stage', 86, (100, 112, 1567, 489), stage_obs, stage_mod, 'Depth [m]',
     (2.25, 5.5), [2.5, 3, 3.5, 4, 4.5, 5, 5.5], False, True),
    ('Salinity, 150cmab', 640, (100, 660, 1567, 947), sal_obs, sal_mod, 'Salinity [psu]',
     (0, 15), [0, 5, 10, 15], False, False),
    ('East-west velocity, 150cmab', 1090, (100, 1108, 1567, 1299), u150_obs, u150_mod, 'U [m/s]',
     (-1, 1), [-1, -0.5, 0, 0.5, 1], True, False),
    ('North-south velocity, 150cmab', 1427, (100, 1456, 1567, 1647), v150_obs, v150_mod, 'V [m/s]',
     (-0.2, 0.2), [-0.2, -0.1, 0, 0.1, 0.2], True, False),
    ('East-west velocity, 50cmab', 1773, (100, 1787, 1567, 1977), u50_obs, u50_mod, 'U [m/s]',
     (-1, 1), [-1, -0.5, 0, 0.5, 1], True, False),
    ('North-south velocity, 50cmab', 2091, (100, 2126, 1567, 2317), v50_obs, v50_mod, 'V [m/s]',
     (-0.2, 0.2), [-0.2, -0.1, 0, 0.1, 0.2], True, True),
]

for title, base, pos, obs, mod, ylab, ylim, yticks, zero, xlab in panels:
    ax = box(*pos)
    series(ax, obs, color=OBS, lw=3.4, label='Observations', zorder=2)
    series(ax, mod, color=MOD, lw=3.4, label='Model', zorder=2)
    if zero:
        ax.axhline(0, color='k', lw=4.8, zorder=3)
    finish(ax, (85, 90), short_xticks, short_xlabels, ylim, yticks, ylab,
           (45 - pos[0]) / (pos[2] - pos[0]), 10.5)
    if xlab:
        ax.set_xlabel('Year days, 2006', fontsize=14.5, labelpad=6)
    fig.text(97 / W, 1 - base / H, title, fontsize=55, ha='left', va='baseline')

# long term panel
ax = box(166, 2579, 1506, 2874)
series(ax, lp_obs, color=OBS, lw=4.0, label='Observations', zorder=2)
series(ax, lp_mod, color=MOD2, lw=4.0, label='Model', zorder=2)
finish(ax, (75, 105), long_xticks, [str(x) for x in long_xticks], (0, 12),
       [0, 2, 4, 6, 8, 10, 12], 'Lowpass Salinity [psu]', (116 - 166) / (1506 - 166), 9.5)
ax.yaxis.label.set_fontsize(13.5)
ax.set_xlabel('Year days, 2006', fontsize=14.5, labelpad=6)
fig.text(97 / W, 1 - 2487 / H, 'Long term tidally averaged salinity', fontsize=55,
         ha='left', va='baseline')

fig.savefig('out.png', dpi=100)
